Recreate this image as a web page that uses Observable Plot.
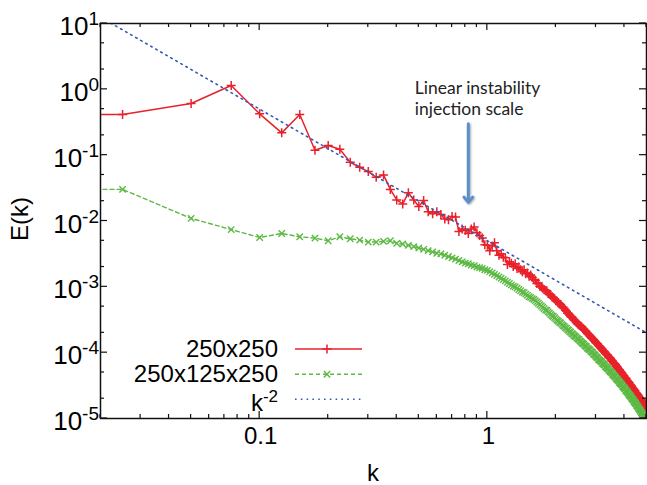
<!DOCTYPE html>
<html><head><meta charset="utf-8">
<script src="https://cdn.jsdelivr.net/npm/d3@7"></script>
<script src="https://cdn.jsdelivr.net/npm/@observablehq/plot@0.6"></script>
<style>
html,body{margin:0;padding:0;background:#fff;}
#chart svg{display:block;}
</style></head><body><div id="chart"></div>
<script>
// ---- data (log10 of E(k)), k = n * dk, n = 1..200 ----
const dk = 0.025;
const leadK = 0.0125;
const redLeadLog10 = -0.38;
const greenLeadLog10 = -1.52;
const redLog10 = [
-0.383,-0.216,0.058,-0.372,-0.661,-0.383,-0.925,-0.854,-0.910,-1.108,
-1.184,-1.249,-1.336,-1.30,-1.52,-1.68,-1.74,-1.57,-1.68,-1.78,
-1.69,-1.86,-1.89,-1.86,-1.90,-1.97,-1.98,-1.93,-1.94,-2.16,
-2.12,-2.14,-2.19,-2.12,-2.09,-2.18,-2.22,-2.26,-2.36,-2.37,
-2.45,-2.38,-2.33,-2.45,-2.52,-2.50,-2.55,-2.56,-2.66,-2.62,
-2.64,-2.69,-2.65,-2.72,-2.70,-2.74,-2.77,-2.74,-2.80,-2.79,
-2.84,-2.82,-2.86,-2.89,-2.90,-2.95,-2.94,-2.99,-3.00,-3.02,
-3.04,-3.06,-3.06,-3.10,-3.11,-3.13,-3.15,-3.17,-3.18,-3.21,
-3.22,-3.24,-3.26,-3.27,-3.30,-3.31,-3.33,-3.35,-3.37,-3.40,
-3.41,-3.43,-3.45,-3.46,-3.48,-3.50,-3.51,-3.53,-3.55,-3.57,
-3.58,-3.59,-3.60,-3.61,-3.63,-3.64,-3.66,-3.67,-3.69,-3.71,
-3.72,-3.73,-3.75,-3.76,-3.78,-3.79,-3.80,-3.82,-3.83,-3.85,
-3.86,-3.87,-3.89,-3.90,-3.91,-3.93,-3.94,-3.95,-3.97,-3.98,
-3.99,-4.01,-4.02,-4.03,-4.04,-4.06,-4.07,-4.08,-4.09,-4.11,
-4.12,-4.13,-4.15,-4.16,-4.17,-4.18,-4.20,-4.21,-4.22,-4.24,
-4.25,-4.26,-4.28,-4.29,-4.30,-4.31,-4.33,-4.34,-4.35,-4.37,
-4.38,-4.39,-4.40,-4.42,-4.43,-4.44,-4.45,-4.46,-4.48,-4.49,
-4.50,-4.51,-4.53,-4.54,-4.55,-4.56,-4.57,-4.58,-4.60,-4.61,
-4.62,-4.63,-4.64,-4.65,-4.67,-4.68,-4.69,-4.70,-4.71,-4.72,
-4.73,-4.75,-4.76,-4.77,-4.78,-4.79,-4.80,-4.82,-4.83,-4.84
];
const greenLog10 = [
-1.52,-1.96,-2.13,-2.25,-2.19,-2.24,-2.26,-2.30,-2.24,-2.27,
-2.29,-2.32,-2.32,-2.31,-2.30,-2.34,-2.35,-2.37,-2.39,-2.41,
-2.43,-2.45,-2.47,-2.49,-2.50,-2.52,-2.54,-2.56,-2.58,-2.60,
-2.62,-2.64,-2.65,-2.67,-2.68,-2.70,-2.71,-2.72,-2.74,-2.75,
-2.77,-2.79,-2.81,-2.83,-2.85,-2.87,-2.89,-2.91,-2.93,-2.95,
-2.97,-2.99,-3.00,-3.02,-3.04,-3.06,-3.08,-3.09,-3.11,-3.13,
-3.15,-3.16,-3.18,-3.19,-3.21,-3.23,-3.25,-3.27,-3.29,-3.31,
-3.33,-3.35,-3.36,-3.38,-3.40,-3.42,-3.44,-3.45,-3.47,-3.49,
-3.51,-3.52,-3.54,-3.55,-3.57,-3.59,-3.60,-3.62,-3.63,-3.65,
-3.66,-3.68,-3.69,-3.71,-3.72,-3.74,-3.75,-3.76,-3.78,-3.79,
-3.80,-3.82,-3.83,-3.85,-3.86,-3.87,-3.89,-3.90,-3.91,-3.93,
-3.94,-3.95,-3.96,-3.98,-3.99,-4.00,-4.02,-4.03,-4.04,-4.06,
-4.07,-4.08,-4.10,-4.11,-4.12,-4.13,-4.14,-4.16,-4.17,-4.18,
-4.19,-4.21,-4.22,-4.23,-4.24,-4.25,-4.27,-4.28,-4.29,-4.30,
-4.31,-4.33,-4.34,-4.35,-4.36,-4.37,-4.39,-4.40,-4.41,-4.42,
-4.43,-4.45,-4.46,-4.47,-4.48,-4.49,-4.51,-4.52,-4.53,-4.54,
-4.55,-4.57,-4.58,-4.59,-4.60,-4.61,-4.63,-4.64,-4.65,-4.66,
-4.67,-4.69,-4.70,-4.71,-4.72,-4.74,-4.75,-4.76,-4.77,-4.78,
-4.80,-4.81,-4.82,-4.83,-4.85,-4.86,-4.87,-4.88,-4.90,-4.91,
-4.92,-4.93,-4.95,-4.96,-4.97,-4.98,-5.00,-5.01,-5.02,-5.03
];
// k^-2 reference line end points
const refK = [0.02, 5];
const refE = [12.5, 2e-4];

// ticks
const xMajor = [0.1, 1];
const xTickLabels = ["0.1", "1"];
const xMinor = [0.02,0.03,0.04,0.05,0.06,0.07,0.08,0.09,0.2,0.3,0.4,0.5,0.6,0.7,0.8,0.9,2,3,4,5];
const yMajor = [1e-5,1e-4,1e-3,1e-2,1e-1,1,10];
const yTickExp = ["-5","-4","-3","-2","-1","0","1"];
const yMinor = [2e-5,5e-5,2e-4,5e-4,2e-3,5e-3,2e-2,5e-2,0.2,0.5,2,5];

// legend + labels
const seriesNames = ["250x250", "250x125x250", "k"];
const refExponent = "-2";
const xLabel = "k";
const yLabel = "E(k)";
const annotationLines = ["Linear instability", "injection scale"];
const annotation = [{k: 0.48, E: 1.41}];
const arrowData = [{k: 0.825, top: 0.30, tip: 0.0192}];

// ---- build rows ----
const redRows = [{k: leadK, E: 10 ** redLeadLog10}, ...redLog10.map((v, i) => ({k: (i + 1) * dk, E: 10 ** v}))];
const greenRows = [{k: leadK, E: 10 ** greenLeadLog10}, ...greenLog10.map((v, i) => ({k: (i + 1) * dk, E: 10 ** v}))];
const refRows = refK.map((k, i) => ({k, E: refE[i]}));

const RED = "#e8212b", GREEN = "#5cb944", BLUE = "#3558b8", ARROW = "#5b8fcb";
const plusSym = {draw(ctx, size) { const a = Math.sqrt(size / Math.PI); ctx.moveTo(-a, 0); ctx.lineTo(a, 0); ctx.moveTo(0, -a); ctx.lineTo(0, a); }};
const timesSym = {draw(ctx, size) { const a = Math.sqrt(size / Math.PI) * 0.7071; ctx.moveTo(-a, -a); ctx.lineTo(a, a); ctx.moveTo(-a, a); ctx.lineTo(a, -a); }};

const chart = Plot.plot({
  width: 647, height: 485,
  marginLeft: 100, marginRight: 1, marginTop: 23, marginBottom: 67,
  style: {fontFamily: "'Liberation Sans', Arial, sans-serif", background: "#fff"},
  x: {type: "log", domain: [0.02, 5], axis: null},
  y: {type: "log", domain: [1e-5, 10], axis: null},
  marks: [
    Plot.line(redRows, {x: "k", y: "E", stroke: RED, strokeWidth: 1.5, clip: true}),
    Plot.dot(redRows.slice(1), {x: "k", y: "E", symbol: plusSym, r: 4.5, stroke: RED, fill: "none", strokeWidth: 1.5, clip: true}),
    Plot.line(greenRows, {x: "k", y: "E", stroke: GREEN, strokeWidth: 1.4, strokeDasharray: "4,3", clip: true}),
    Plot.dot(greenRows.slice(1), {x: "k", y: "E", symbol: timesSym, r: 4.5, stroke: GREEN, fill: "none", strokeWidth: 1.4, clip: true}),
    Plot.line(refRows, {x: "k", y: "E", stroke: BLUE, strokeWidth: 1.6, strokeDasharray: "1.6,4.2", clip: true}),
    Plot.arrow(arrowData, {x1: "k", y1: "top", x2: "k", y2: "tip", stroke: ARROW, strokeWidth: 3, headLength: 3.4, headAngle: 80}),
    Plot.text(annotation, {x: "k", y: "E", text: () => annotationLines.join("\n"), textAnchor: "start", lineAnchor: "top", lineHeight: 1.18, fontSize: 17.5, fontFamily: "Lato", fill: "#222"}),
    Plot.frame({stroke: "#111", strokeWidth: 1.5})
  ]
});
document.getElementById("chart").appendChild(chart);

// ---- axes, ticks, legend (positions through Plot's scales) ----
const svg = d3.select(chart);
const sx = chart.scale("x"), sy = chart.scale("y");
const X = v => sx.apply(v), Y = v => sy.apply(v);
const [L, R] = sx.range;
const [B, T] = sy.range;

svg.select('g[aria-label="arrow"]').style("filter", "drop-shadow(1.5px 1.5px 1.2px rgba(0,0,0,0.35))");

const tg = svg.append("g").attr("stroke", "#111").attr("stroke-width", 1.2);
function xt(vals, len) { for (const v of vals) { const x = X(v);
  tg.append("line").attr("x1", x).attr("x2", x).attr("y1", B).attr("y2", B - len);
  tg.append("line").attr("x1", x).attr("x2", x).attr("y1", T).attr("y2", T + len); } }
function yt(vals, len) { for (const v of vals) { const y = Y(v);
  tg.append("line").attr("y1", y).attr("y2", y).attr("x1", L).attr("x2", L + len);
  tg.append("line").attr("y1", y).attr("y2", y).attr("x1", R).attr("x2", R - len); } }
xt(xMajor, 7); xt(xMinor, 4); yt(yMajor, 7); yt(yMinor, 4);

const FONT = "'Liberation Sans', Arial, sans-serif";
const lg = svg.append("g").attr("font-family", FONT).attr("fill", "#000");
xMajor.forEach((v, i) => lg.append("text").attr("x", X(v) + 1.5).attr("y", B + 26).attr("text-anchor", "middle").attr("font-size", 24).text(xTickLabels[i]));
yMajor.forEach((v, i) => {
  const t = lg.append("text").attr("x", L - 1).attr("y", Y(v) + 12).attr("text-anchor", "end").attr("font-size", 26);
  t.append("tspan").text("10");
  t.append("tspan").attr("font-size", 19).attr("dy", -10).text(yTickExp[i]);
});
lg.append("text").attr("x", (L + R) / 2).attr("y", 481).attr("text-anchor", "middle").attr("font-size", 24).text(xLabel);
lg.append("text").attr("transform", `translate(28,${(T + B) / 2 - 1.5}) rotate(-90)`).attr("text-anchor", "middle").attr("font-size", 24).text(yLabel);

// legend
const legRowY = [349, 374.3, 399.3];
const legTextY = [357.3, 382.2, 411];
const legTextX = 278, legX1 = 295, legX2 = 362, legMark = 327;
const leg = svg.append("g").attr("font-family", FONT);
leg.append("text").attr("x", legTextX).attr("y", legTextY[0]).attr("text-anchor", "end").attr("font-size", 24).text(seriesNames[0]);
leg.append("text").attr("x", legTextX).attr("y", legTextY[1]).attr("text-anchor", "end").attr("font-size", 24).text(seriesNames[1]);
const kt = leg.append("text").attr("x", legTextX).attr("y", legTextY[2]).attr("text-anchor", "end").attr("font-size", 24);
kt.append("tspan").text(seriesNames[2]);
kt.append("tspan").attr("font-size", 17).attr("dy", -9).text(refExponent);
leg.append("line").attr("x1", legX1).attr("x2", legX2).attr("y1", legRowY[0]).attr("y2", legRowY[0]).attr("stroke", RED).attr("stroke-width", 1.5);
leg.append("path").attr("d", `M${legMark-4.5},${legRowY[0]}h9M${legMark},${legRowY[0]-4.5}v9`).attr("stroke", RED).attr("stroke-width", 1.5);
leg.append("line").attr("x1", legX1).attr("x2", legX2).attr("y1", legRowY[1]).attr("y2", legRowY[1]).attr("stroke", GREEN).attr("stroke-width", 1.4).attr("stroke-dasharray", "4,3");
leg.append("path").attr("d", `M${legMark-3.2},${legRowY[1]-3.2}l6.4,6.4M${legMark-3.2},${legRowY[1]+3.2}l6.4,-6.4`).attr("stroke", GREEN).attr("stroke-width", 1.4);
leg.append("line").attr("x1", legX1).attr("x2", legX2).attr("y1", legRowY[2]).attr("y2", legRowY[2]).attr("stroke", BLUE).attr("stroke-width", 1.6).attr("stroke-dasharray", "1.6,4.2");
</script>
</body></html>
